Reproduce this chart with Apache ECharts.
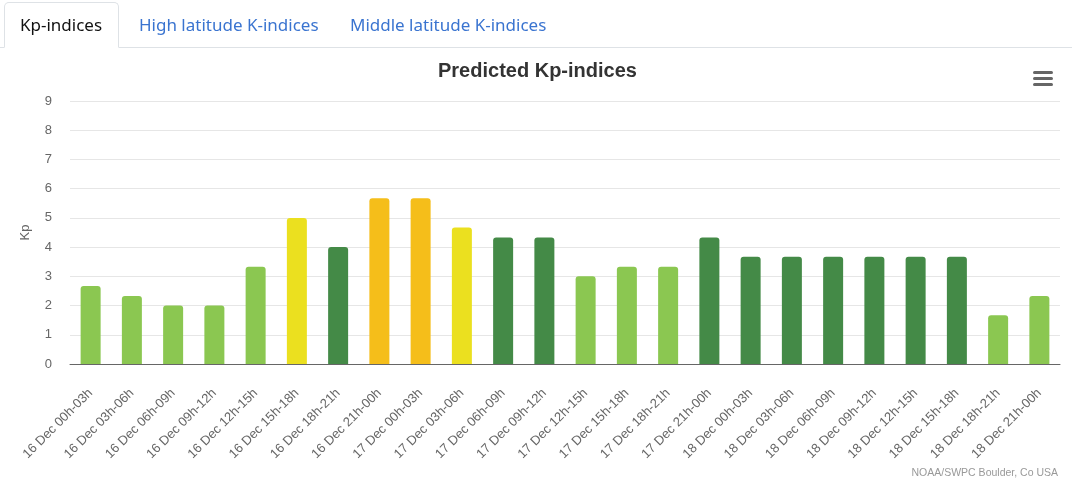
<!DOCTYPE html>
<html>
<head>
<meta charset="utf-8">
<script src="https://cdn.jsdelivr.net/npm/echarts@6/dist/echarts.min.js"></script>
<style>
  html, body { margin: 0; padding: 0; background: #fff; }
  #wrap { position: relative; width: 1086px; height: 492px; overflow: hidden; }
  #chart { position: absolute; left: 0; top: 0; width: 1086px; height: 492px; }
  #tabs { position: absolute; left: 0; top: 0; width: 1072px; height: 47px; border-bottom: 1px solid #dee2e6; z-index: 2;
          font-family: "Noto Sans", "Open Sans", sans-serif; font-size: 17px; }
  .tab { position: absolute; top: 2px; height: 44px; line-height: 46px; box-sizing: border-box; color: #3a74d0; white-space: nowrap; }
  .tab.active { color: #111; background: #fff; border: 1px solid #dee2e6; border-bottom: 1px solid #fff; border-radius: 5px 5px 0 0; height: 46px; line-height: 44px; }
</style>
</head>
<body>
<div id="wrap">
  <div id="chart"></div>
  <div id="tabs">
    <div class="tab active" style="left:4px;width:115px;padding-left:15px;">Kp-indices</div>
    <div class="tab" style="left:139px;">High latitude K-indices</div>
    <div class="tab" style="left:350px;">Middle latitude K-indices</div>
  </div>
</div>
<script>
const categories = [
  "16 Dec 00h-03h","16 Dec 03h-06h","16 Dec 06h-09h","16 Dec 09h-12h","16 Dec 12h-15h","16 Dec 15h-18h",
  "16 Dec 18h-21h","16 Dec 21h-00h","17 Dec 00h-03h","17 Dec 03h-06h","17 Dec 06h-09h","17 Dec 09h-12h",
  "17 Dec 12h-15h","17 Dec 15h-18h","17 Dec 18h-21h","17 Dec 21h-00h","18 Dec 00h-03h","18 Dec 03h-06h",
  "18 Dec 06h-09h","18 Dec 09h-12h","18 Dec 12h-15h","18 Dec 15h-18h","18 Dec 18h-21h","18 Dec 21h-00h"
];
const kpValues = [2.67, 2.33, 2.00, 2.00, 3.33, 5.00, 4.00, 5.67, 5.67, 4.67, 4.33, 4.33,
                  3.00, 3.33, 3.33, 4.33, 3.67, 3.67, 3.67, 3.67, 3.67, 3.67, 1.67, 2.33];
const yTicks = [0, 1, 2, 3, 4, 5, 6, 7, 8, 9];

const palette = { low: "#8BC751", mid: "#448A47", high: "#EBE01F", storm: "#F5BE1A" };
function colorFor(v) {
  if (v < 3.5) return palette.low;
  if (v < 4.5) return palette.mid;
  if (v < 5.5) return palette.high;
  return palette.storm;
}

const chart = echarts.init(document.getElementById('chart'), null, { renderer: 'canvas' });
const font = '"Liberation Sans", Arial, sans-serif';
chart.setOption({
  animation: false,
  backgroundColor: '#fff',
  title: {
    text: 'Predicted Kp-indices', left: 433, top: 56,
    textStyle: { fontFamily: font, fontSize: 20, fontWeight: 'bold', color: '#333' }
  },
  grid: { left: 70, right: 26, top: 101, bottom: 128, containLabel: false },
  xAxis: {
    type: 'category', data: categories,
    axisLine: { lineStyle: { color: '#666', width: 1 } },
    axisTick: { show: false },
    axisLabel: { rotate: 45, interval: 0, color: '#666', fontFamily: font, fontSize: 13, margin: 27 }
  },
  yAxis: {
    type: 'value', min: yTicks[0], max: yTicks[yTicks.length - 1], interval: 1,
    name: 'Kp', nameLocation: 'middle', nameGap: 38, nameRotate: 90,
    nameTextStyle: { color: '#666', fontFamily: font, fontSize: 13 },
    axisLine: { show: false }, axisTick: { show: false },
    axisLabel: { color: '#666', fontFamily: font, fontSize: 13, margin: 18 },
    splitLine: { lineStyle: { color: '#e6e6e6' } }
  },
  series: [{
    type: 'bar', barWidth: 20,
    data: kpValues.map(v => ({ value: v, itemStyle: { color: colorFor(v), borderRadius: [3, 3, 0, 0] } }))
  }],
  graphic: [
    { type: 'rect', left: 1033, top: 71, shape: { width: 20, height: 3, r: 1.5 }, style: { fill: '#666' } },
    { type: 'rect', left: 1033, top: 77, shape: { width: 20, height: 3, r: 1.5 }, style: { fill: '#666' } },
    { type: 'rect', left: 1033, top: 83, shape: { width: 20, height: 3, r: 1.5 }, style: { fill: '#666' } },
    { type: 'text', right: 28, top: 468, style: { text: 'NOAA/SWPC Boulder, Co USA', fill: '#999', font: '10.5px ' + font } }
  ]
});
</script>
</body>
</html>
